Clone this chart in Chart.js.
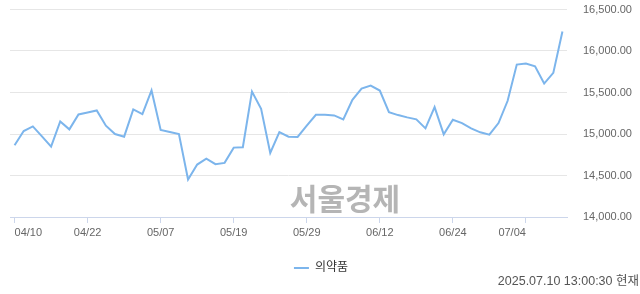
<!DOCTYPE html>
<html lang="ko">
<head>
<meta charset="utf-8">
<script src="https://cdn.jsdelivr.net/npm/chart.js@4.4.1/dist/chart.umd.min.js"></script>
<style>
  html, body { margin: 0; padding: 0; background: #fff; }
  #wrap { width: 640px; height: 294px; }
</style>
</head>
<body>
<div id="wrap"><canvas id="chart" width="640" height="294"></canvas></div>
<script>
// 거래일 (04/10 ~ 07/10)
const dates = [
  "04/10", "04/11", "04/14", "04/15", "04/16", "04/17", "04/18", "04/21",
  "04/22", "04/23", "04/24", "04/25", "04/28", "04/29", "04/30", "05/02",
  "05/07", "05/08", "05/09", "05/12", "05/13", "05/14", "05/15", "05/16",
  "05/19", "05/20", "05/21", "05/22", "05/23", "05/26", "05/27", "05/28",
  "05/29", "05/30", "06/02", "06/04", "06/05", "06/09", "06/10", "06/11",
  "06/12", "06/13", "06/16", "06/17", "06/18", "06/19", "06/20", "06/23",
  "06/24", "06/25", "06/26", "06/27", "06/30", "07/01", "07/02", "07/03",
  "07/04", "07/07", "07/08", "07/09", "07/10"
];

const pharmaIndex = [
  14864, 15036, 15092, 14972, 14848, 15152, 15056, 15236,
  15260, 15284, 15100, 15000, 14968, 15296, 15240, 15524,
  15048, 15024, 15000, 14452, 14632, 14704, 14636, 14652,
  14836, 14840, 15512, 15304, 14772, 15024, 14968, 14964,
  15100, 15232, 15232, 15224, 15176, 15412, 15548, 15584,
  15524, 15264, 15228, 15200, 15176, 15068, 15324, 14996,
  15172, 15132, 15068, 15020, 14992, 15132, 15400, 15836,
  15848, 15816, 15608, 15736, 16236
];

const xTickLabels = ["04/10", "04/22", "05/07", "05/19", "05/29", "06/12", "06/24", "07/04"];
const yTicks = [14000, 14500, 15000, 15500, 16000, 16500];

const seriesName = "의약품";
const stampText = "2025.07.10 13:00:30 현재";
const watermarkText = "서울경제";

const LINE_COLOR = "#7cb5ec";
const FONT = "'Liberation Sans', 'Noto Sans CJK KR', sans-serif";

const extras = {
  id: "extras",
  beforeDatasetsDraw(chart) {
    const ctx = chart.ctx;
    ctx.save();
    ctx.font = "bold 30px 'Noto Sans CJK KR', sans-serif";
    ctx.fillStyle = "rgba(150,150,150,0.7)";
    ctx.textAlign = "center";
    ctx.textBaseline = "middle";
    ctx.fillText(watermarkText, 345, 199);
    ctx.restore();
  },
  afterDraw(chart) {
    const ctx = chart.ctx;
    ctx.save();
    ctx.font = "12.5px " + FONT;
    ctx.fillStyle = "#555";
    ctx.textAlign = "right";
    ctx.textBaseline = "middle";
    ctx.fillText(stampText, 639, 282);
    ctx.restore();
  }
};

new Chart(document.getElementById("chart"), {
  type: "line",
  data: {
    labels: dates,
    datasets: [{
      label: seriesName,
      data: pharmaIndex,
      borderColor: LINE_COLOR,
      backgroundColor: LINE_COLOR,
      borderWidth: 2,
      pointRadius: 0,
      pointHoverRadius: 0,
      tension: 0,
      fill: false
    }]
  },
  options: {
    responsive: false,
    devicePixelRatio: 1,
    animation: false,
    layout: { padding: { top: 9.5, left: 10, right: 8, bottom: 10 } },
    plugins: {
      tooltip: { enabled: false },
      legend: {
        position: "bottom",
        labels: {
          usePointStyle: true,
          pointStyle: "line",
          pointStyleWidth: 15,
          padding: 10,
          color: "#333",
          font: { family: FONT, size: 12 }
        }
      }
    },
    scales: {
      x: {
        offset: true,
        border: { display: true, color: "#ccd6eb", width: 1 },
        grid: {
          display: true,
          drawOnChartArea: false,
          drawTicks: true,
          tickLength: 6,
          color: "#ccd6eb"
        },
        ticks: {
          autoSkip: false,
          maxRotation: 0,
          align: "inner",
          padding: 3,
          color: "#666",
          font: { family: FONT, size: 11 },
          callback(value, index) {
            const lbl = dates[index];
            return xTickLabels.includes(lbl) ? lbl : null;
          }
        },
        afterFit(scale) { scale.height = 35; }
      },
      y: {
        position: "right",
        min: yTicks[0],
        max: yTicks[yTicks.length - 1],
        border: { display: false },
        // tick marks only used as spacing for the labels
        grid: { color: "#e6e6e6", drawTicks: true, tickLength: 16, tickColor: "rgba(0,0,0,0)" },
        afterBuildTicks(scale) {
          scale.ticks = yTicks.map(v => ({ value: v }));
        },
        ticks: {
          padding: 0,
          color: "#666",
          font: { family: FONT, size: 11 },
          callback(value) {
            return value.toLocaleString("en-US", { minimumFractionDigits: 2, maximumFractionDigits: 2 });
          }
        },
        afterFit(scale) { scale.width = 65; }
      }
    }
  },
  plugins: [extras]
});
</script>
</body>
</html>
